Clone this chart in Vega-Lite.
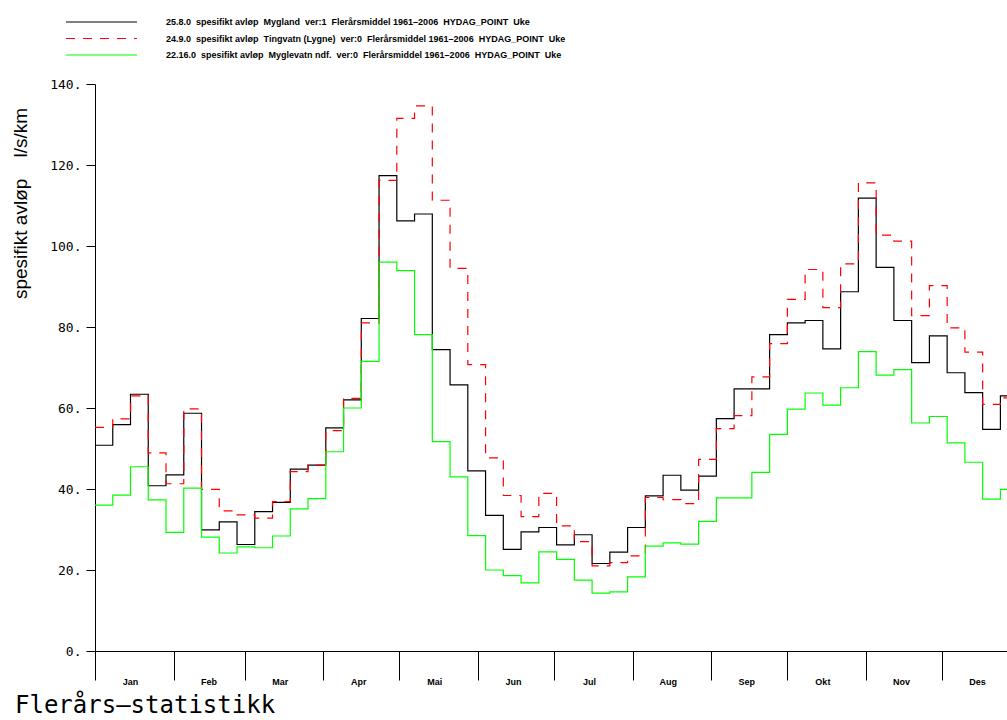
{
  "$schema": "https://vega.github.io/schema/vega-lite/v6.json",
  "width": 912,
  "height": 567,
  "autosize": {"type": "none"},
  "padding": {"left": 95, "top": 84, "right": 0, "bottom": 69},
  "background": "white",
  "config": {
    "view": {"stroke": null},
    "axis": {"grid": false, "domainColor": "#000000", "tickColor": "#000000", "labelColor": "#000000", "titleColor": "#000000", "domainWidth": 1, "tickWidth": 1}
  },
  "title": {
    "text": "Flerårs–statistikk",
    "orient": "bottom",
    "anchor": "start",
    "frame": "group",
    "dx": -80,
    "offset": 8,
    "font": "DejaVu Sans Mono",
    "fontSize": 24,
    "fontWeight": "normal",
    "color": "#000000"
  },
  "data": {
    "values": [
      {"day": 0, "Mygland": 50.8, "Tingvatn": 55.2, "Myglevatn": 36.0},
      {"day": 7, "Mygland": 55.9, "Tingvatn": 57.3, "Myglevatn": 38.5},
      {"day": 14, "Mygland": 63.4, "Tingvatn": 63.0, "Myglevatn": 45.5},
      {"day": 21, "Mygland": 40.8, "Tingvatn": 48.9, "Myglevatn": 37.3},
      {"day": 28, "Mygland": 43.5, "Tingvatn": 41.3, "Myglevatn": 29.3},
      {"day": 35, "Mygland": 58.7, "Tingvatn": 59.8, "Myglevatn": 40.2},
      {"day": 42, "Mygland": 29.9, "Tingvatn": 39.9, "Myglevatn": 28.1},
      {"day": 49, "Mygland": 31.9, "Tingvatn": 34.6, "Myglevatn": 24.2},
      {"day": 56, "Mygland": 26.3, "Tingvatn": 33.6, "Myglevatn": 25.7},
      {"day": 63, "Mygland": 34.4, "Tingvatn": 32.8, "Myglevatn": 25.5},
      {"day": 70, "Mygland": 36.7, "Tingvatn": 36.9, "Myglevatn": 28.4},
      {"day": 77, "Mygland": 44.9, "Tingvatn": 44.3, "Myglevatn": 35.1},
      {"day": 84, "Mygland": 45.9, "Tingvatn": 45.9, "Myglevatn": 37.6},
      {"day": 91, "Mygland": 55.1, "Tingvatn": 54.4, "Myglevatn": 49.2},
      {"day": 98, "Mygland": 62.0, "Tingvatn": 62.4, "Myglevatn": 60.0},
      {"day": 105, "Mygland": 82.1, "Tingvatn": 81.0, "Myglevatn": 71.5},
      {"day": 112, "Mygland": 117.4, "Tingvatn": 116.2, "Myglevatn": 96.0},
      {"day": 119, "Mygland": 106.2, "Tingvatn": 131.5, "Myglevatn": 93.9},
      {"day": 126, "Mygland": 107.9, "Tingvatn": 134.6, "Myglevatn": 78.1},
      {"day": 133, "Mygland": 74.4, "Tingvatn": 111.3, "Myglevatn": 51.7},
      {"day": 140, "Mygland": 65.7, "Tingvatn": 94.5, "Myglevatn": 43.0},
      {"day": 147, "Mygland": 44.5, "Tingvatn": 70.7, "Myglevatn": 28.5},
      {"day": 154, "Mygland": 33.5, "Tingvatn": 47.7, "Myglevatn": 20.0},
      {"day": 161, "Mygland": 25.1, "Tingvatn": 38.4, "Myglevatn": 18.6},
      {"day": 168, "Mygland": 29.4, "Tingvatn": 33.2, "Myglevatn": 16.8},
      {"day": 175, "Mygland": 30.5, "Tingvatn": 38.9, "Myglevatn": 24.5},
      {"day": 182, "Mygland": 26.2, "Tingvatn": 30.9, "Myglevatn": 22.6},
      {"day": 189, "Mygland": 28.7, "Tingvatn": 27.0, "Myglevatn": 17.5},
      {"day": 196, "Mygland": 21.6, "Tingvatn": 21.0, "Myglevatn": 14.3},
      {"day": 203, "Mygland": 24.4, "Tingvatn": 21.8, "Myglevatn": 14.6},
      {"day": 210, "Mygland": 30.5, "Tingvatn": 23.5, "Myglevatn": 18.3},
      {"day": 217, "Mygland": 38.3, "Tingvatn": 37.9, "Myglevatn": 25.9},
      {"day": 224, "Mygland": 43.4, "Tingvatn": 37.4, "Myglevatn": 26.7},
      {"day": 231, "Mygland": 39.7, "Tingvatn": 36.4, "Myglevatn": 26.4},
      {"day": 238, "Mygland": 43.2, "Tingvatn": 47.3, "Myglevatn": 32.0},
      {"day": 245, "Mygland": 57.4, "Tingvatn": 54.9, "Myglevatn": 37.8},
      {"day": 252, "Mygland": 64.7, "Tingvatn": 58.1, "Myglevatn": 37.8},
      {"day": 259, "Mygland": 64.7, "Tingvatn": 67.7, "Myglevatn": 44.1},
      {"day": 266, "Mygland": 78.1, "Tingvatn": 75.9, "Myglevatn": 53.5},
      {"day": 273, "Mygland": 81.0, "Tingvatn": 86.8, "Myglevatn": 59.7},
      {"day": 280, "Mygland": 81.6, "Tingvatn": 94.2, "Myglevatn": 63.7},
      {"day": 287, "Mygland": 74.6, "Tingvatn": 84.8, "Myglevatn": 60.7},
      {"day": 294, "Mygland": 88.7, "Tingvatn": 95.6, "Myglevatn": 65.0},
      {"day": 301, "Mygland": 111.8, "Tingvatn": 115.6, "Myglevatn": 73.9},
      {"day": 308, "Mygland": 94.7, "Tingvatn": 102.7, "Myglevatn": 68.1},
      {"day": 315, "Mygland": 81.6, "Tingvatn": 101.2, "Myglevatn": 69.5},
      {"day": 322, "Mygland": 71.2, "Tingvatn": 82.8, "Myglevatn": 56.3},
      {"day": 329, "Mygland": 77.8, "Tingvatn": 90.2, "Myglevatn": 57.9},
      {"day": 336, "Mygland": 68.7, "Tingvatn": 79.8, "Myglevatn": 51.4},
      {"day": 343, "Mygland": 63.8, "Tingvatn": 73.8, "Myglevatn": 46.6},
      {"day": 350, "Mygland": 54.7, "Tingvatn": 60.9, "Myglevatn": 37.5},
      {"day": 357, "Mygland": 63.0, "Tingvatn": 62.5, "Myglevatn": 39.9},
      {"day": 364, "Mygland": 63.0, "Tingvatn": 62.5, "Myglevatn": 39.9}
    ]
  },
  "transform": [{"fold": ["Mygland", "Tingvatn", "Myglevatn"], "as": ["s", "v"]}],
  "mark": {"type": "line", "interpolate": "step-after", "clip": true},
  "encoding": {
    "x": {
      "field": "day",
      "type": "quantitative",
      "scale": {"domain": [0, 359.6], "nice": false, "zero": false},
      "axis": {
        "title": null,
        "values": [0, 31, 59, 90, 120, 151, 181, 212, 243, 273, 304, 334],
        "labelExpr": "['Jan','Feb','Mar','Apr','Mai','Jun','Jul','Aug','Sep','Okt','Nov','Des'][indexof([0,31,59,90,120,151,181,212,243,273,304,334], datum.value)]",
        "tickSize": 29,
        "labelPadding": -3,
        "labelOffset": 35,
        "labelAlign": "center",
        "labelBaseline": "top",
        "labelFont": "Liberation Sans",
        "labelFontWeight": "bold",
        "labelFontSize": 9,
        "labelOverlap": false,
        "labelFlush": false
      }
    },
    "y": {
      "field": "v",
      "type": "quantitative",
      "scale": {"domain": [0, 140], "nice": false},
      "axis": {
        "values": [0, 20, 40, 60, 80, 100, 120, 140],
        "labelExpr": "datum.value + '.'",
        "tickSize": 9,
        "labelPadding": 5,
        "labelFont": "DejaVu Sans Mono",
        "labelFontSize": 13,
        "title": "spesifikt avløp\u00a0\u00a0\u00a0\u00a0l/s/km",
        "titleFont": "Liberation Sans",
        "titleFontSize": 19,
        "titleFontWeight": "normal",
        "titleAngle": -90,
        "titleAlign": "center",
        "titleBaseline": "middle",
        "titleX": -75,
        "titleY": 119
      }
    },
    "color": {
      "field": "s",
      "type": "nominal",
      "scale": {"domain": ["Mygland", "Tingvatn", "Myglevatn"], "range": ["#000000", "#ff0000", "#00ff00"]},
      "legend": {
        "orient": "none",
        "legendX": -30,
        "legendY": -69,
        "title": null,
        "padding": 0,
        "symbolType": "stroke",
        "symbolSize": 5041,
        "symbolStrokeWidth": 1.5,
        "clipHeight": 14,
        "rowPadding": 2.5,
        "labelOffset": 28,
        "labelFont": "Liberation Sans",
        "labelFontWeight": "bold",
        "labelFontSize": 9,
        "labelColor": "#000000",
        "labelLimit": 0,
        "labelExpr": "datum.label == 'Mygland' ? '25.8.0\u00a0\u00a0spesifikt avløp\u00a0\u00a0Mygland\u00a0\u00a0ver:1\u00a0\u00a0Flerårsmiddel 1961–2006\u00a0\u00a0HYDAG_POINT\u00a0\u00a0Uke' : datum.label == 'Tingvatn' ? '24.9.0\u00a0\u00a0spesifikt avløp\u00a0\u00a0Tingvatn (Lygne)\u00a0\u00a0ver:0\u00a0\u00a0Flerårsmiddel 1961–2006\u00a0\u00a0HYDAG_POINT\u00a0\u00a0Uke' : '22.16.0\u00a0\u00a0spesifikt avløp\u00a0\u00a0Myglevatn ndf.\u00a0\u00a0ver:0\u00a0\u00a0Flerårsmiddel 1961–2006\u00a0\u00a0HYDAG_POINT\u00a0\u00a0Uke'",
        "encode": {
          "symbols": {
            "update": {
              "strokeDash": {"signal": "datum.value == 'Tingvatn' ? [9, 8] : [1, 0]"}
            }
          }
        }
      }
    },
    "strokeDash": {
      "field": "s",
      "type": "nominal",
      "scale": {"domain": ["Mygland", "Tingvatn", "Myglevatn"], "range": [[1, 0], [9, 8], [1, 0]]},
      "legend": null
    },
    "strokeWidth": {
      "field": "s",
      "type": "ordinal",
      "scale": {"domain": ["Mygland", "Tingvatn", "Myglevatn"], "range": [1.2, 1.2, 2]},
      "legend": null
    }
  }
}
